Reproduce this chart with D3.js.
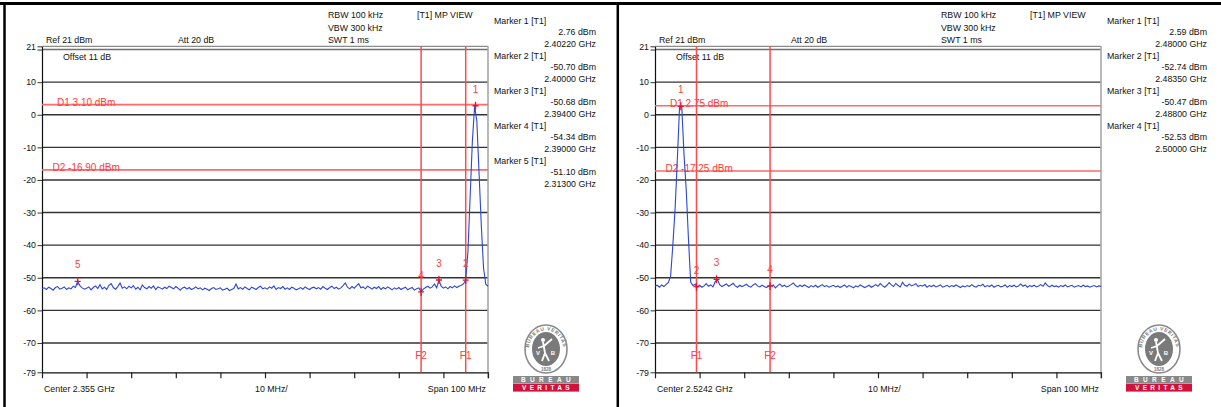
<!DOCTYPE html>
<html lang="en">
<head>
<meta charset="utf-8">
<title>Spectrum analyzer plots</title>
<script src="https://d3js.org/d3.v7.min.js"></script>
<style>
  body { margin: 0; background: #fff; }
  svg text { font-family: "Liberation Sans", Arial, sans-serif; }
</style>
</head>
<body>
<div id="chart"></div>
<script>
var w = 1221, h = 407;

// level axis, dBm
var yTicks = [21, 20, 10, 0, -10, -20, -30, -40, -50, -60, -70, -79];
var gridLevels = [20, 10, 0, -10, -20, -30, -40, -50, -60, -70];

// left sweep: 2.305 - 2.405 GHz
var leftCenter = 2.355;
var leftSpan = 0.1;
var leftTrace = [
  -53.4, -53.1, -53.6, -52.9, -53.3, -53.8, -53.0, -52.7, -53.5, -53.2, -52.8, -53.6, -53.1, -53.4, -52.6, -53.0, -51.1, -52.4, -53.1, -53.5,
  -53.2, -52.8, -53.7, -53.0, -52.5, -53.3, -52.1, -53.4, -52.9, -53.6, -52.3, -51.8, -53.0, -53.5, -52.7, -51.6, -53.2, -52.8, -53.4, -52.6,
  -53.1, -52.4, -53.5, -52.9, -53.7, -52.2, -53.0, -53.4, -52.7, -53.2, -52.5, -53.6, -52.8, -53.1, -53.5, -52.9, -53.3, -52.6, -53.0, -53.4,
  -52.7, -53.2, -53.8, -53.1, -52.9, -53.5, -53.0, -53.6, -53.3, -52.8, -53.4, -53.1, -53.7, -53.2, -53.5, -53.9, -53.3, -53.0, -53.6, -53.4,
  -53.1, -53.8, -53.5, -53.2, -53.9, -53.6, -53.3, -51.9, -53.4, -53.0, -53.5, -52.8, -53.3, -53.7, -52.9, -53.2, -53.6, -53.0, -52.6, -53.4,
  -53.1, -53.5, -52.8, -53.2, -52.5, -53.6, -53.0, -53.3, -52.7, -53.5, -53.1, -53.6, -52.9, -53.2, -53.7, -53.4, -53.0, -53.5, -52.8, -53.3,
  -53.6, -53.1, -52.9, -53.4, -53.0, -53.5, -52.7, -53.2, -53.6, -53.0, -52.6, -53.3, -52.9, -53.5, -53.1, -52.4, -51.6, -52.9, -53.4, -52.7,
  -53.2, -52.5, -51.8, -53.1, -52.8, -53.4, -52.6, -53.0, -53.5, -52.9, -53.3, -52.7, -53.6, -53.0, -53.4, -52.8, -53.2, -53.7, -53.1, -53.5,
  -53.0, -53.6, -53.2, -52.9, -53.7, -53.3, -53.0, -53.8, -53.4, -53.1, -54.3, -53.5, -53.0, -52.6, -53.2, -52.8, -51.9, -53.1, -50.7, -52.6,
  -53.2, -52.8, -53.4, -52.7, -53.1, -52.5, -53.0, -52.6, -52.3, -51.9, -50.7, -42.0, -25.0, -8.0, 2.7, -2.0, -18.0, -34.0, -47.0, -52.0, -52.6
];
var leftMarkerFreq = [2.40220, 2.40000, 2.39400, 2.39000, 2.31300];
var leftMarkerLevel = [2.76, -50.70, -50.68, -54.34, -51.10];
var leftDLines = [3.10, -16.90];
var leftFLines = [2.400, 2.390];

// right sweep: 2.4742 - 2.5742 GHz
var rightCenter = 2.5242;
var rightSpan = 0.1;
var rightTrace = [
  -52.6, -52.3, -52.9, -52.2, -52.7, -52.0, -51.4, -49.5, -40.0, -29.0, -14.0, 2.2, 2.5, -12.0, -23.0, -38.0, -51.3, -52.4, -52.0, -52.8,
  -52.3, -52.9, -52.5, -51.8, -52.6, -52.2, -52.8, -51.2, -50.5, -52.1, -52.7, -52.3, -51.9, -52.6, -52.2, -51.7, -52.5, -52.9, -52.3, -52.7,
  -52.4, -52.0, -52.6, -52.9, -52.2, -51.8, -52.5, -52.8, -52.3, -52.7, -53.0, -52.5, -52.6, -52.2, -53.1, -52.4, -51.9, -52.7, -52.3, -52.8,
  -52.5, -52.1, -51.6, -52.4, -52.8, -52.3, -52.7, -52.2, -52.6, -53.0, -52.4, -52.8, -52.3, -52.9, -52.5, -52.1, -52.7, -52.4, -52.9, -52.6,
  -52.3, -52.8, -52.5, -53.0, -52.6, -52.2, -52.9, -52.4, -52.7, -53.1, -52.5, -52.8, -52.2, -52.6, -53.0, -52.7, -52.3, -52.9, -52.5, -52.1,
  -52.6, -51.8, -52.4, -52.9, -52.3, -51.5, -52.2, -52.7, -51.7, -52.4, -52.8, -51.4, -52.3, -52.6, -51.9, -52.5, -52.2, -51.8, -52.7, -52.3,
  -52.6, -52.1, -52.9, -52.4, -52.7, -52.3, -52.8, -52.5, -52.2, -52.9, -52.6, -52.3, -52.8, -52.4, -52.7, -52.2, -52.6, -53.0, -52.5, -52.8,
  -52.4, -52.7, -52.1, -52.6, -52.9, -52.3, -52.5, -52.0, -52.8, -52.4, -52.7, -52.2, -52.9, -52.5, -52.3, -52.8, -52.6, -52.2, -52.9, -52.4,
  -52.7, -52.3, -52.8, -52.5, -51.9, -52.6, -52.2, -52.9, -52.4, -52.7, -52.3, -52.8, -52.5, -52.1, -52.6, -51.6, -52.4, -52.8, -52.3, -52.7,
  -52.5, -52.9, -52.4, -52.7, -52.2, -52.8, -52.5, -52.3, -52.9, -52.6, -52.4, -52.8, -52.3, -52.7, -52.5, -52.9, -52.6, -52.4, -52.8, -52.5, -52.7
];
var rightMarkerFreq = [2.48000, 2.48350, 2.48800, 2.50000];
var rightMarkerLevel = [2.59, -52.74, -50.47, -52.53];
var rightDLines = [2.75, -17.25];
var rightFLines = [2.4835, 2.500];

var svg = d3.select("#chart")
  .append("svg")
  .attr("width", w)
  .attr("height", h);

svg.append("rect").attr("width", w).attr("height", h).attr("fill", "#fff");

function txt(g, x, y, s, opt) {
  opt = opt || {};
  return g.append("text")
    .attr("x", x).attr("y", y)
    .attr("text-anchor", opt.anchor || "start")
    .attr("font-size", opt.size || 8.8)
    .attr("fill", opt.color || "#111")
    .text(s);
}

function drawPanel(ox, center, span, trace, mFreq, mLevel, dLines, fLines, listRight, logoId) {
  var g = svg.append("g");
  var x0 = ox + 42, x1 = ox + 488;
  var yTop = 46.3, yBot = 372.3;

  var x = d3.scaleLinear().domain([center - span / 2, center + span / 2]).range([x0, x1]);
  var y = d3.scaleLinear().domain([-79, 21]).range([yBot, yTop]);

  // header texts
  txt(g, ox + 328, 18, "RBW 100 kHz");
  txt(g, ox + 328, 31, "VBW 300 kHz");
  txt(g, ox + 328, 43, "SWT 1 ms");
  txt(g, ox + 417, 18, "[T1] MP VIEW");
  txt(g, ox + 46, 43, "Ref 21 dBm");
  txt(g, ox + 178, 43, "Att 20 dB");

  // grid
  g.selectAll(".grid").data(gridLevels).enter().append("line")
    .attr("x1", x0).attr("x2", x1)
    .attr("y1", function(d) { return y(d); })
    .attr("y2", function(d) { return y(d); })
    .attr("stroke", function(d) { return d === 20 ? "#707070" : "#333"; })
    .attr("stroke-width", 1.4);

  // frame top + right
  g.append("line").attr("x1", x0).attr("x2", x1).attr("y1", y(21)).attr("y2", y(21))
    .attr("stroke", "#8c8c8c").attr("stroke-width", 1.3);
  g.append("line").attr("x1", x1).attr("x2", x1).attr("y1", y(21)).attr("y2", yBot + 6)
    .attr("stroke", "#a8a8a8").attr("stroke-width", 1.6);

  txt(g, ox + 63, 60, "Offset 11 dB");

  // y axis
  var yAxis = d3.axisLeft(y)
    .tickValues(yTicks)
    .tickSize(4.5)
    .tickPadding(1.5)
    .tickSizeOuter(0)
    .tickFormat(function(d) { return d === 20 ? "" : String(d); });
  var ya = g.append("g").attr("transform", "translate(" + x0 + ",0)").call(yAxis);
  ya.select(".domain").attr("stroke", "#111").attr("stroke-width", 1.2);
  ya.selectAll(".tick line").attr("stroke", "#333");
  ya.selectAll("text").attr("font-size", 8.8).attr("fill", "#111")
    .attr("font-family", "Liberation Sans, Arial, sans-serif");

  // x axis (ticks only)
  var xTicks = d3.range(0, 11).map(function(i) { return center - span / 2 + i * span / 10; });
  var xAxis = d3.axisBottom(x).tickValues(xTicks).tickSize(6).tickSizeOuter(0).tickFormat("");
  var xa = g.append("g").attr("transform", "translate(0," + yBot + ")").call(xAxis);
  xa.select(".domain").attr("stroke", "#111").attr("stroke-width", 1.3);
  xa.selectAll(".tick line").attr("stroke", "#222").attr("stroke-width", 1.2);

  txt(g, ox + 44, 392, "Center " + center + " GHz");
  txt(g, ox + 255, 392, "10 MHz/");
  txt(g, ox + 486, 392, "Span 100 MHz", { anchor: "end" });

  // display lines D1/D2
  dLines.forEach(function(v, i) {
    g.append("line").attr("x1", x0).attr("x2", x1).attr("y1", y(v)).attr("y2", y(v))
      .attr("stroke", "#ff6a6a").attr("stroke-width", 1.6);
    txt(g, x0 + (i === 0 ? 15 : 10.5), y(v) + 1,
        "D" + (i + 1) + " " + v.toFixed(2) + " dBm", { size: 10, color: "#ff3b3b" });
  });

  // frequency lines F1/F2
  fLines.forEach(function(v, i) {
    g.append("line").attr("x1", x(v)).attr("x2", x(v)).attr("y1", y(21)).attr("y2", yBot)
      .attr("stroke", "#ff4a4a").attr("stroke-width", 1.5);
    txt(g, x(v), 359, "F" + (i + 1), { anchor: "middle", size: 10, color: "#ff3b3b" });
  });

  // trace
  var n = trace.length;
  var line = d3.line()
    .x(function(d, i) { return x(center - span / 2 + i * span / (n - 1)); })
    .y(function(d) { return y(d); });
  g.append("path").datum(trace)
    .attr("d", line)
    .attr("fill", "none")
    .attr("stroke", "#2c46d8")
    .attr("stroke-width", 1.1);

  // markers
  mFreq.forEach(function(f, i) {
    var mx = x(f), my = y(mLevel[i]);
    g.append("path")
      .attr("d", "M" + mx + "," + (my - 4) + "V" + (my + 4) + "M" + (mx - 3) + "," + my + "H" + (mx + 3))
      .attr("stroke", "#e8132a").attr("stroke-width", 1.3).attr("fill", "none");
    txt(g, mx, my - 13, String(i + 1), { anchor: "middle", size: 10, color: "#ff4040" });
  });

  // marker list
  mFreq.forEach(function(f, i) {
    var by = 23.5 + 35 * i;
    txt(g, ox + 494, by, "Marker " + (i + 1) + " [T1]");
    txt(g, listRight, by + 11, mLevel[i].toFixed(2) + " dBm", { anchor: "end" });
    txt(g, listRight, by + 23, f.toFixed(5) + " GHz", { anchor: "end" });
  });

  drawLogo(ox + 546, 349, logoId);
}

function drawLogo(cx, cy, id) {
  var g = svg.append("g");
  g.append("ellipse").attr("cx", cx).attr("cy", cy).attr("rx", 21).attr("ry", 24)
    .attr("fill", "#fff").attr("stroke", "#8a8a8a").attr("stroke-width", 1.6);
  g.append("ellipse").attr("cx", cx).attr("cy", cy).attr("rx", 14).attr("ry", 17)
    .attr("fill", "#7a7a7a");
  g.append("path").attr("id", id)
    .attr("d", "M" + (cx - 17.5) + "," + (cy + 2) + " A17.5,20.5 0 0 1 " + (cx + 17.5) + "," + (cy + 2))
    .attr("fill", "none");
  g.append("text").attr("font-size", 5).attr("font-weight", "bold").attr("fill", "#7a7a7a")
    .attr("letter-spacing", 0.6)
    .append("textPath").attr("href", "#" + id).attr("startOffset", "50%")
    .attr("text-anchor", "middle").text("BUREAU VERITAS");
  txt(g, cx, cy + 21.5, "1828", { anchor: "middle", size: 4.5, color: "#7a7a7a" })
    .attr("font-weight", "bold");
  // figure
  g.append("circle").attr("cx", cx - 3).attr("cy", cy - 9).attr("r", 2).attr("fill", "#fff");
  g.append("path")
    .attr("d", "M" + (cx - 3) + "," + (cy - 7) + "L" + (cx - 1) + "," + (cy + 4) +
               "L" + (cx - 4) + "," + (cy + 12) + "M" + (cx - 1) + "," + (cy + 4) + "L" + (cx + 3) + "," + (cy + 12) +
               "M" + (cx - 2) + "," + (cy - 3) + "L" + (cx + 6) + "," + (cy - 10) +
               "M" + (cx - 2) + "," + (cy - 3) + "L" + (cx - 8) + "," + (cy - 1))
    .attr("stroke", "#fff").attr("stroke-width", 1.8).attr("fill", "none");
  txt(g, cx - 8, cy + 6, "V", { anchor: "middle", size: 6, color: "#fff" }).attr("font-weight", "bold");
  txt(g, cx + 7, cy + 6, "B", { anchor: "middle", size: 6, color: "#fff" }).attr("font-weight", "bold");

  g.append("rect").attr("x", cx - 33).attr("y", 376).attr("width", 66).attr("height", 7.2)
    .attr("fill", "#888");
  txt(g, cx + 2, 382, "BUREAU", { anchor: "middle", size: 6.5, color: "#fff" })
    .attr("font-weight", "bold").attr("letter-spacing", 4.4);
  g.append("rect").attr("x", cx - 33).attr("y", 383.6).attr("width", 66).attr("height", 8)
    .attr("fill", "#d0123c");
  txt(g, cx + 1.5, 390.3, "VERITAS", { anchor: "middle", size: 6.5, color: "#fff" })
    .attr("font-weight", "bold").attr("letter-spacing", 3.3);
}

drawPanel(0, leftCenter, leftSpan, leftTrace, leftMarkerFreq, leftMarkerLevel, leftDLines, leftFLines, 596, "ringL");
drawPanel(613, rightCenter, rightSpan, rightTrace, rightMarkerFreq, rightMarkerLevel, rightDLines, rightFLines, 1207, "ringR");

// outer borders
svg.append("line").attr("x1", 0).attr("x2", w).attr("y1", 3.5).attr("y2", 3.5)
  .attr("stroke", "#000").attr("stroke-width", 3);
svg.append("line").attr("x1", 4.5).attr("x2", 4.5).attr("y1", 2).attr("y2", h)
  .attr("stroke", "#000").attr("stroke-width", 2.5);
svg.append("line").attr("x1", 617.8).attr("x2", 617.8).attr("y1", 2).attr("y2", h)
  .attr("stroke", "#000").attr("stroke-width", 2.5);
</script>
</body>
</html>
